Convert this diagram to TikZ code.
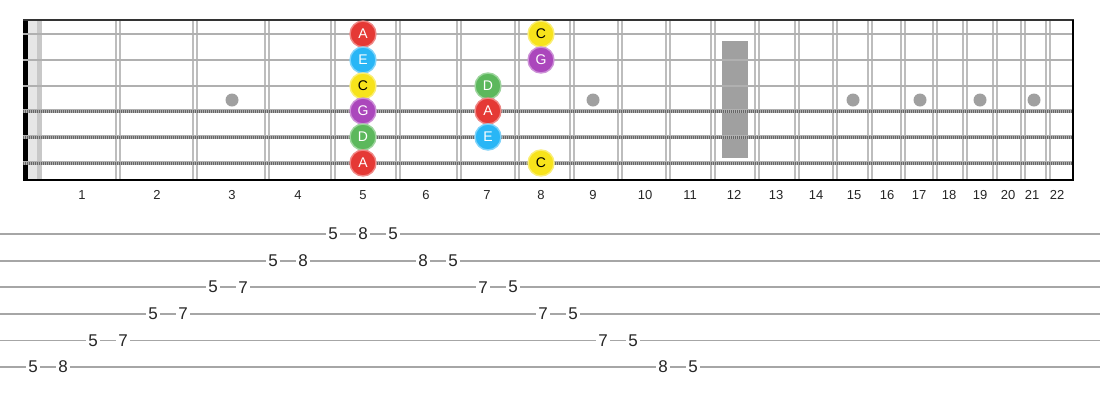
\documentclass[tikz,border=0pt]{standalone}
\usepackage{fontspec}
\setmainfont{Liberation Sans}
\usepackage{tikz}
\definecolor{noteRed}{HTML}{E53935}
\definecolor{noteCyan}{HTML}{29B6F6}
\definecolor{noteYellow}{HTML}{F7E31B}
\definecolor{notePurple}{HTML}{AB47BC}
\definecolor{noteGreen}{HTML}{5CB85C}
\definecolor{inlayGrey}{HTML}{A0A0A0}
\definecolor{wireGrey}{HTML}{BDBDBD}
\definecolor{stringGrey}{HTML}{B0B0B0}
\definecolor{woundDark}{HTML}{666666}
\definecolor{tabGrey}{HTML}{A6A6A6}
\definecolor{nutLight}{HTML}{E6E6E6}
\definecolor{nutMid}{HTML}{C8C8C8}

\begin{document}
\begin{tikzpicture}
[x=1pt, y=-1pt, every node/.style={inner sep=0pt},
 note/.style={circle, minimum size=26pt, line width=1.4pt, font=\fontsize{14}{14}\selectfont},
 noteA/.style={note, fill=noteRed, draw=noteRed!60!white, text=white},
 noteE/.style={note, fill=noteCyan, draw=noteCyan!60!white, text=white},
 noteC/.style={note, fill=noteYellow, draw=noteYellow!60!white, text=black},
 noteG/.style={note, fill=notePurple, draw=notePurple!60!white, text=white},
 noteD/.style={note, fill=noteGreen, draw=noteGreen!60!white, text=white},
 inlay/.style={circle, minimum size=13pt, fill=inlayGrey},
 fretwire/.style={line width=1.2pt, color=wireGrey},
 plainstring/.style={line width=2.8pt, color=stringGrey},
 fretnum/.style={font=\fontsize{13}{13}\selectfont, text=black!85},
 tabline/.style={line width=1.8pt, color=tabGrey},
 tabnum/.style={fill=white, inner xsep=2.5pt, inner ysep=1pt, font=\fontsize{17}{17}\selectfont, text=black!85}]
\useasboundingbox (0,0) rectangle (1100,400);
\fill[white] (0,0) rectangle (1100,400);
\fill[nutLight] (28,20) rectangle (37,180);
\fill[nutMid] (37,20) rectangle (42,180);
\fill[black] (23,20) rectangle (28,180);
\foreach \x in {118,195,267,333,398,459,517,572,620,668,713,757,797,835,870,903,935,965,995,1023,1048}
{
\draw [fretwire] ({\x-2},20) -- ({\x-2},180);
\draw [fretwire] ({\x+2},20) -- ({\x+2},180);
}
\fill[inlayGrey] (722,41) rectangle (748,158);
\foreach \n/\x in {3/232,5/363,7/488,9/593,15/853,17/920,19/980,21/1034}
\node (inlay\n) [inlay] at (\x,100) {};
\foreach \s/\y in {1/34,2/60,3/86}
\draw [plainstring] (23,\y) -- (1073,\y);
\foreach \s/\y in {4/111,5/137,6/163}
{
\draw [line width=4.4pt, color=stringGrey] (23,\y) -- (1073,\y);
\draw [line width=3pt, color=woundDark, dash pattern=on 1pt off 1pt] (23,\y) -- (1073,\y);
}
\draw [line width=1.6pt, color=black!80] (23,20) -- (1074,20);
\draw [line width=2pt, color=black] (23,180) -- (1074,180);
\draw [line width=2pt, color=black] (1073,20) -- (1073,180);
\node (n1a) [noteA] at (363,34) {A};
\node (n1c) [noteC] at (541,34) {C};
\node (n2e) [noteE] at (363,60) {E};
\node (n2g) [noteG] at (541,60) {G};
\node (n3c) [noteC] at (363,86) {C};
\node (n3d) [noteD] at (488,86) {D};
\node (n4g) [noteG] at (363,111) {G};
\node (n4a) [noteA] at (488,111) {A};
\node (n5d) [noteD] at (363,137) {D};
\node (n5e) [noteE] at (488,137) {E};
\node (n6a) [noteA] at (363,163) {A};
\node (n6c) [noteC] at (541,163) {C};
\foreach \n/\x in {1/82,2/157,3/232,4/298,5/363,6/426,7/487,8/541,9/593,10/645,11/690,12/734,13/776,14/816,15/854,16/887,17/919,18/949,19/980,20/1008,21/1032,22/1057}
\node (fret\n) [fretnum] at (\x,195) {\n};
\foreach \k in {1,...,6}
\draw [tabline] (0,{234+(\k-1)*26.6}) -- (1100,{234+(\k-1)*26.6});
\foreach \i/\k/\v in {0/6/5,1/6/8,2/5/5,3/5/7,4/4/5,5/4/7,6/3/5,7/3/7,8/2/5,9/2/8,10/1/5,11/1/8,12/1/5,13/2/8,14/2/5,15/3/7,16/3/5,17/4/7,18/4/5,19/5/7,20/5/5,21/6/8,22/6/5}
\node (tab\i) [tabnum] at ({33+30*\i},{234+(\k-1)*26.6}) {\v};
\end{tikzpicture}
\end{document}
